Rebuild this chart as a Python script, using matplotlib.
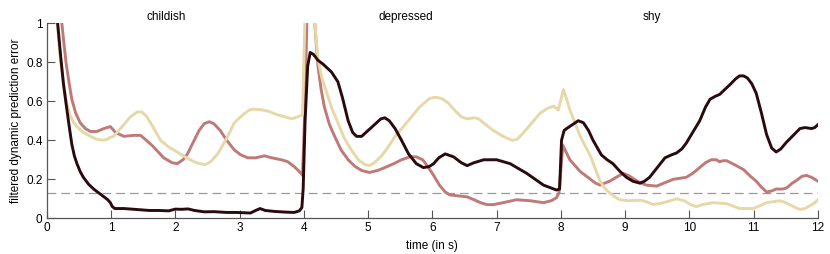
import matplotlib
matplotlib.use("Agg")
import matplotlib.pyplot as plt

plt.rcParams["font.family"] = ["Liberation Sans", "DejaVu Sans"]

# (time in s, filtered prediction error)
t_black = [0.12, 0.17, 0.22, 0.26, 0.30, 0.35, 0.39, 0.43, 0.47, 0.52, 0.57, 0.65, 0.73, 0.81,
           0.89, 0.95, 0.99, 1.02, 1.06, 1.2, 1.4, 1.6, 1.75, 1.9, 2.0, 2.1, 2.2, 2.3, 2.45, 2.6,
           2.8, 2.95, 3.1, 3.17, 3.25, 3.32, 3.4, 3.55, 3.7, 3.85, 3.93, 3.97, 3.99, 4.02, 4.06,
           4.1, 4.15, 4.22, 4.3, 4.43, 4.53, 4.6, 4.69, 4.76, 4.82, 4.9, 5.0, 5.1, 5.2, 5.26,
           5.33, 5.42, 5.52, 5.63, 5.75, 5.86, 5.95, 6.02, 6.1, 6.2, 6.33, 6.45, 6.54, 6.65, 6.8,
           7.0, 7.21, 7.47, 7.73, 7.93, 7.98, 8.01, 8.05, 8.09, 8.18, 8.27, 8.35, 8.43, 8.5,
           8.63, 8.72, 8.81, 8.92, 9.02, 9.12, 9.23, 9.3, 9.38, 9.5, 9.62, 9.72, 9.8, 9.88, 9.95,
           10.05, 10.16, 10.25, 10.32, 10.4, 10.47, 10.55, 10.63, 10.72, 10.78, 10.84, 10.9,
           10.97, 11.04, 11.12, 11.2, 11.28, 11.35, 11.42, 11.51, 11.6, 11.72, 11.8, 11.9,
           11.95, 12.0]
e_black = [1.3, 1.0, 0.82, 0.69, 0.59, 0.47, 0.38, 0.32, 0.28, 0.24, 0.21, 0.175, 0.15, 0.13,
           0.11, 0.095, 0.08, 0.06, 0.05, 0.05, 0.045, 0.04, 0.04, 0.038, 0.047, 0.046, 0.048,
           0.04, 0.033, 0.034, 0.03, 0.03, 0.028, 0.027, 0.04, 0.05, 0.04, 0.035, 0.032, 0.03,
           0.038, 0.055, 0.15, 0.5, 0.78, 0.85, 0.84, 0.81, 0.79, 0.75, 0.7, 0.62, 0.5, 0.44,
           0.42, 0.42, 0.45, 0.48, 0.51, 0.515, 0.5, 0.46, 0.4, 0.33, 0.28, 0.26, 0.265, 0.28,
           0.31, 0.33, 0.315, 0.285, 0.27, 0.285, 0.3, 0.3, 0.28, 0.23, 0.17, 0.145, 0.15, 0.4,
           0.45, 0.46, 0.48, 0.5, 0.49, 0.45, 0.4, 0.325, 0.3, 0.28, 0.24, 0.21, 0.19, 0.18,
           0.19, 0.21, 0.26, 0.31, 0.325, 0.335, 0.355, 0.385, 0.44, 0.5, 0.57, 0.61, 0.625,
           0.635, 0.66, 0.685, 0.715, 0.73, 0.73, 0.72, 0.69, 0.64, 0.54, 0.43, 0.36, 0.34,
           0.355, 0.39, 0.42, 0.46, 0.465, 0.46, 0.465, 0.48]

t_rose = [0.15, 0.22, 0.26, 0.30, 0.35, 0.39, 0.45, 0.52, 0.6, 0.68, 0.78, 0.89, 0.99, 1.03,
          1.07, 1.2, 1.35, 1.46, 1.55, 1.65, 1.82, 1.95, 2.03, 2.12, 2.19, 2.28, 2.37, 2.45,
          2.53, 2.6, 2.7, 2.8, 2.92, 3.02, 3.13, 3.25, 3.39, 3.5, 3.65, 3.75, 3.85, 3.93, 3.98,
          4.02, 4.06, 4.12, 4.17, 4.22, 4.27, 4.32, 4.4, 4.48, 4.58, 4.69, 4.8, 4.9, 5.02,
          5.15, 5.26, 5.4, 5.52, 5.65, 5.75, 5.85, 5.93, 6.02, 6.11, 6.2, 6.27, 6.4, 6.54,
          6.65, 6.75, 6.85, 6.95, 7.1, 7.31, 7.52, 7.73, 7.85, 7.93, 7.97, 8.03, 8.08, 8.14,
          8.22, 8.3, 8.38, 8.46, 8.54, 8.61, 8.68, 8.76, 8.86, 8.97, 9.05, 9.12, 9.22, 9.33,
          9.49, 9.6, 9.75, 9.95, 10.05, 10.16, 10.25, 10.34, 10.42, 10.47, 10.52, 10.58, 10.7,
          10.84, 10.95, 11.04, 11.12, 11.2, 11.28, 11.35, 11.45, 11.51, 11.6, 11.67, 11.75,
          11.82, 11.9, 12.0]
e_rose = [1.3, 1.05, 0.92, 0.8, 0.69, 0.61, 0.54, 0.49, 0.46, 0.445, 0.445, 0.46, 0.47, 0.455,
          0.44, 0.42, 0.425, 0.425, 0.4, 0.37, 0.31, 0.285, 0.28, 0.3, 0.33, 0.39, 0.45, 0.485,
          0.495, 0.485, 0.45, 0.4, 0.35, 0.325, 0.31, 0.31, 0.32, 0.31, 0.3, 0.29, 0.265, 0.24,
          0.22, 0.6, 1.2, 1.2, 1.0, 0.78, 0.66, 0.57, 0.48, 0.42, 0.35, 0.3, 0.265, 0.245,
          0.235, 0.245, 0.26, 0.28, 0.3, 0.315, 0.315, 0.3, 0.265, 0.22, 0.17, 0.135, 0.12,
          0.115, 0.11, 0.095, 0.08, 0.07, 0.07, 0.08, 0.095, 0.09, 0.08, 0.09, 0.105, 0.13,
          0.375, 0.34, 0.3, 0.27, 0.24, 0.22, 0.2, 0.18, 0.17, 0.18, 0.19, 0.21, 0.23, 0.22,
          0.205, 0.185, 0.17, 0.165, 0.18, 0.2, 0.21, 0.23, 0.26, 0.285, 0.3, 0.3, 0.29, 0.295,
          0.295, 0.275, 0.25, 0.215, 0.19, 0.16, 0.135, 0.14, 0.15, 0.15, 0.155, 0.18, 0.195,
          0.215, 0.22, 0.21, 0.19]

t_beige = [0.12, 0.16, 0.2, 0.26, 0.31, 0.36, 0.42, 0.5, 0.57, 0.68, 0.78, 0.88, 0.94, 0.99,
           1.04, 1.12, 1.2, 1.3, 1.41, 1.48, 1.56, 1.65, 1.77, 1.9, 2.03, 2.15, 2.29, 2.38,
           2.47, 2.55, 2.66, 2.8, 2.92, 3.05, 3.15, 3.23, 3.35, 3.44, 3.55, 3.7, 3.82, 3.9,
           3.98, 4.0, 4.04, 4.12, 4.17, 4.22, 4.28, 4.35, 4.44, 4.53, 4.63, 4.74, 4.85, 4.95,
           5.02, 5.1, 5.21, 5.3, 5.42, 5.55, 5.65, 5.8, 5.96, 6.05, 6.14, 6.25, 6.33, 6.45,
           6.54, 6.65, 6.72, 6.85, 6.95, 7.1, 7.24, 7.32, 7.42, 7.55, 7.68, 7.8, 7.89, 7.96,
           8.04, 8.1, 8.14, 8.22, 8.3, 8.38, 8.46, 8.54, 8.61, 8.68, 8.76, 8.84, 8.92, 9.05,
           9.23, 9.33, 9.44, 9.6, 9.8, 9.92, 10.02, 10.11, 10.2, 10.37, 10.58, 10.7, 10.78,
           10.99, 11.1, 11.2, 11.3, 11.41, 11.5, 11.56, 11.65, 11.72, 11.8, 11.88, 11.95, 12.0]
e_beige = [1.3, 1.02, 0.85, 0.69, 0.59, 0.53, 0.49, 0.46, 0.44, 0.42, 0.405, 0.4, 0.405,
           0.415, 0.42, 0.45, 0.48, 0.52, 0.545, 0.545, 0.52, 0.47, 0.4, 0.365, 0.34, 0.315,
           0.29, 0.28, 0.275, 0.29, 0.33, 0.41, 0.49, 0.53, 0.555, 0.56, 0.555, 0.55, 0.535,
           0.52, 0.51, 0.52, 0.53, 0.8, 1.3, 1.3, 1.0, 0.82, 0.72, 0.65, 0.56, 0.49, 0.41,
           0.35, 0.3, 0.275, 0.27, 0.285, 0.32, 0.36, 0.42, 0.47, 0.51, 0.57, 0.615, 0.62,
           0.615, 0.59, 0.56, 0.52, 0.51, 0.515, 0.51, 0.475, 0.45, 0.42, 0.4, 0.405, 0.44,
           0.49, 0.54, 0.565, 0.575, 0.555, 0.66, 0.6, 0.555, 0.49, 0.42, 0.37, 0.32, 0.25,
           0.19, 0.155, 0.13, 0.11, 0.095, 0.09, 0.093, 0.085, 0.07, 0.08, 0.1, 0.09, 0.07,
           0.06, 0.07, 0.08, 0.075, 0.06, 0.05, 0.05, 0.065, 0.08, 0.085, 0.09, 0.08, 0.07,
           0.055, 0.045, 0.05, 0.065, 0.08, 0.095]

threshold = 0.13
segment_names = ["childish", "depressed", "shy"]
segment_label_x = [1.86, 5.59, 9.42]

fig = plt.figure(figsize=(8.3, 2.54), dpi=100)
ax = fig.add_axes([0.0563, 0.1406, 0.9292, 0.768])

ax.axhline(threshold, color="#9a9a9a", linewidth=0.9, dashes=(7, 4))
ax.plot(t_rose, e_rose, color="#bf7a78", linewidth=2.1)
ax.plot(t_beige, e_beige, color="#e6d8a8", linewidth=2.1)
ax.plot(t_black, e_black, color="#2a0a0c", linewidth=2.1)

for name, xpos in zip(segment_names, segment_label_x):
    ax.text(xpos, 1.0 + 6 / 195, name, ha="center", va="center", fontsize=8.5)

ax.set_xlim(0, 12)
ax.set_ylim(0, 1)
ax.set_xticks(range(0, 13))
ax.set_yticks([0, 0.2, 0.4, 0.6, 0.8, 1])
ax.set_yticklabels(["0", "0.2", "0.4", "0.6", "0.8", "1"])
ax.tick_params(direction="in", length=5.5, width=0.8, color="#555555", labelsize=8.5, pad=3)
for side in ["top", "right"]:
    ax.spines[side].set_visible(False)
for side in ["left", "bottom"]:
    ax.spines[side].set_color("#555555")
    ax.spines[side].set_linewidth(0.9)

ax.set_xlabel("time (in s)", fontsize=8.5, labelpad=4)
ax.set_ylabel("filtered dynamic prediction error", fontsize=8.5, labelpad=3)

fig.savefig("out.png", dpi=100)
